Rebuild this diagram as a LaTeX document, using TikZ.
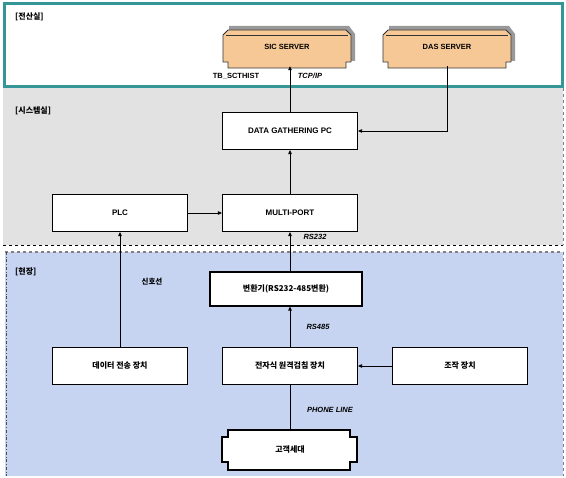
\documentclass[tikz,border=0pt]{standalone}
\usepackage{fontspec}
\setmainfont{Liberation Sans}
\newfontfamily\kr{Noto Sans CJK KR}
\usetikzlibrary{arrows.meta,calc}
\definecolor{teal1}{RGB}{52,150,150}
\definecolor{srvfill}{RGB}{246,200,150}
\definecolor{graybg}{RGB}{226,226,226}
\definecolor{bluebg}{RGB}{198,212,242}
\begin{document}
\begin{tikzpicture}[x=1pt,y=-1pt,
  box/.style={draw=black,line width=1.1pt,fill=white,minimum width=135pt,minimum height=37pt,inner sep=0pt,font=\kr\bfseries\fontsize{8}{9}\selectfont},
  ghost/.style={minimum width=128pt,minimum height=38pt,inner sep=0pt,font=\bfseries\fontsize{7.5}{9}\selectfont},
  lbl/.style={font=\bfseries\itshape\fontsize{7.5}{9}\selectfont,inner sep=1pt},
  sec/.style={font=\kr\bfseries\fontsize{8}{9}\selectfont,inner sep=1pt,anchor=west},
  arr/.style={line width=0.8pt,-{Triangle[length=4pt,width=3.5pt]}},
  ln/.style={line width=0.8pt}]
\useasboundingbox (0,0) rectangle (566,478);
% backgrounds
\fill[white] (0,0) rectangle (566,478);
\fill[graybg] (3,88) rectangle (563,245);
\draw[black,dashed,line width=0.6pt] (3,245) -- (563,245);
\draw[gray,dashed,line width=0.5pt] (563,88) -- (563,245);
\fill[bluebg] (5,252) rectangle (563,476);
\draw[gray,dashed,line width=2pt] (5,252) -- (563,252);
\draw[black!70,dash dot,line width=0.6pt] (6,252) -- (6,476);
\draw[gray,dashed,line width=0.5pt] (563,252) -- (563,476);
\draw[teal1,line width=3pt,fill=white] (4,4) rectangle (562,87);
% section labels
\node[sec] (s1) at (14,17) {[전산실]};
\node[sec] (s2) at (14,111) {[시스템실]};
\node[sec] (s3) at (14,272) {[현장]};
% servers
\foreach \cx in {287,447}{
  \fill[gray!80] ($(\cx,47)+(-58,-21)$) -- ($(\cx,47)+(62,-21)$) -- ($(\cx,47)+(68,-13)$) -- ($(\cx,47)+(68,14)$) -- ($(\cx,47)+(60,14)$) -- ($(\cx,47)+(60,-14)$) -- ($(\cx,47)+(-58,-14)$) -- cycle;
  \draw[black!80,line width=0.8pt,fill=srvfill] ($(\cx,47)+(-59,-17)$) -- ($(\cx,47)+(59,-17)$) -- ($(\cx,47)+(64,-12)$) -- ($(\cx,47)+(64,15)$) -- ($(\cx,47)+(59,15)$) -- ($(\cx,47)+(59,21)$) -- ($(\cx,47)+(-59,21)$) -- ($(\cx,47)+(-59,15)$) -- ($(\cx,47)+(-64,15)$) -- ($(\cx,47)+(-64,-12)$) -- cycle;
  \draw[black!80,line width=0.6pt] ($(\cx,47)+(-61,-12)$) -- ($(\cx,47)+(61,-12)$);
}
\node[ghost] (sic) at (287,47) {SIC SERVER};
\node[ghost] (das) at (447,47) {DAS SERVER};
% system room
\node[box,font=\bfseries\fontsize{8}{9}\selectfont] (dg) at (290,131) {DATA GATHERING PC};
\node[box,font=\bfseries\fontsize{8}{9}\selectfont] (plc) at (120,213) {PLC};
\node[box,font=\bfseries\fontsize{8}{9}\selectfont] (mp) at (290,213) {MULTI-PORT};
% field
\node[box,minimum width=152pt,minimum height=34pt] (cv) at (286,289) {변환기(RS232-485변환)};
\node[box] (dt) at (120,366) {데이터 전송 장치};
\node[box] (em) at (290,366) {전자식 원격검침 장치};
\node[box] (op) at (460,366) {조작 장치};
\draw[black,line width=1.1pt,fill=white] (228,430) -- (350,430) -- (350,437) -- (357,437) -- (357,462) -- (350,462) -- (350,470) -- (228,470) -- (228,462) -- (222,462) -- (222,437) -- (228,437) -- cycle;
\node[ghost,font=\kr\bfseries\fontsize{8}{9}\selectfont] (cu) at (290,450) {고객세대};
% connectors
\draw[arr] (dg.north) -- (sic.south -| dg.north);
\draw[arr] (das.south) |- (dg.east);
\draw[arr] (mp.north) -- (dg.south);
\draw[arr] (plc.east) -- (mp.west);
\draw[arr] (cv.north -| mp.south) -- (mp.south);
\draw[arr] (dt.north) -- (plc.south);
\draw[arr] (em.north) -- (cv.south -| em.north);
\draw[arr] (op.west) -- (em.east);
\draw[ln] (cu.north) -- (em.south);
% labels
\node[lbl,font=\bfseries\fontsize{7.5}{9}\selectfont] (l1) at (236,76) {TB\_SCTHIST};
\node[lbl] (l2) at (310,76) {TCP/IP};
\node[lbl] (l3) at (315,237) {RS232};
\node[lbl,font=\kr\bfseries\fontsize{7.5}{9}\selectfont] (l4) at (152,282) {신호선};
\node[lbl] (l5) at (318,327) {RS485};
\node[lbl] (l6) at (330,410) {PHONE LINE};
\end{tikzpicture}
\end{document}
